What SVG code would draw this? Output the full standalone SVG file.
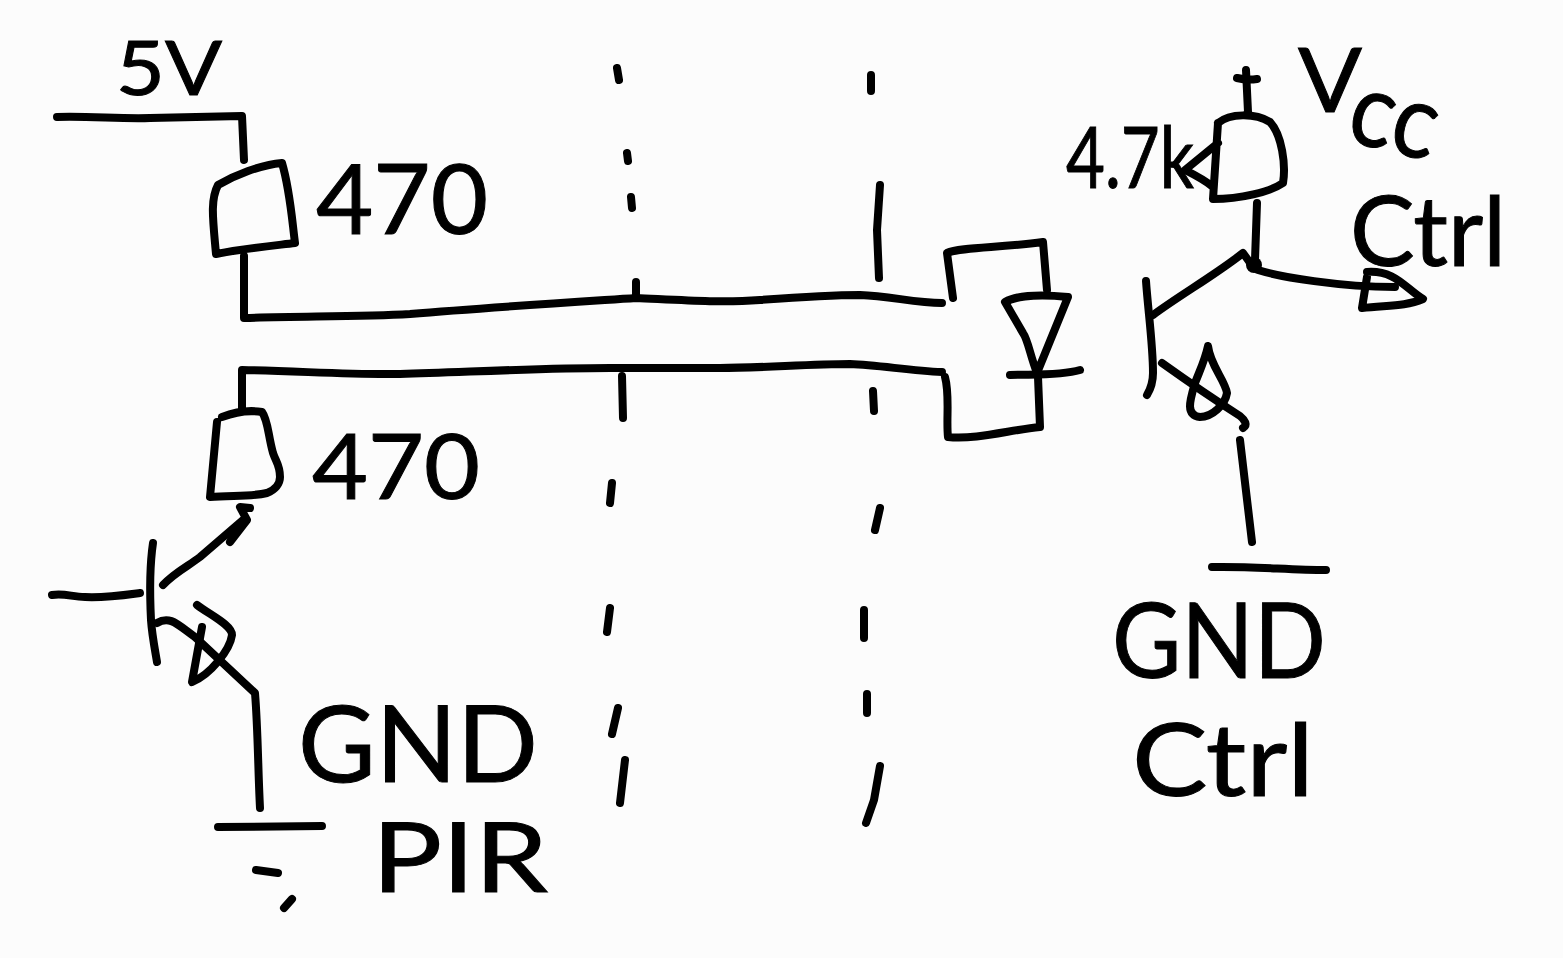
<svg xmlns="http://www.w3.org/2000/svg" width="1563" height="958" viewBox="0 0 1563 958">
<style>
.s{fill:none;stroke:#000;stroke-width:8;stroke-linecap:round;stroke-linejoin:round}
.t{font-family:"Lato","Liberation Sans",sans-serif;fill:#000;stroke:#000;stroke-width:1;font-weight:400}
</style>
<rect width="1563" height="958" fill="#fcfcfc"/>
<g id="connectors" class="s">
<path d="M57 117C90 116 120 119 150 118L242 116L244 160"/>
<path d="M244 256L244 318C300 316 360 317 410 314C480 308 560 303 636 298C680 300 720 303 760 300C800 297 830 295 860 295C890 296 915 303 942 303"/>
<path d="M242 410L242 370C300 371 350 375 400 374C470 372 540 368 610 368L720 368C760 368 810 364 850 364C880 365 910 371 942 372"/>
<path d="M52 595C65 593 72 597 85 597C105 598 125 595 140 593"/>
<path d="M153 543C149 570 150 600 151 620C152 635 155 650 157 662"/>
<path d="M163 585C175 572 190 565 200 557L243 520M230 542L247 520L240 507L250 508"/>
<path d="M157 623C170 615 178 625 195 637L255 693C258 730 258 770 260 808"/>
<path d="M218 827L322 826"/>
<path d="M256 870L278 873"/>
<path d="M284 908L292 899"/>
<path d="M1246 70L1248 112M1237 78C1245 80 1250 80 1257 79"/>
<path d="M1257 203L1255 260"/>
<path d="M1146 281C1148 310 1153 345 1153 373C1153 382 1150 390 1147 395"/>
<path d="M1153 315C1180 295 1215 275 1243 253L1253 267"/>
<path d="M1258 270C1280 277 1340 287 1395 287"/>
<path d="M1162 363C1190 383 1215 400 1240 416C1245 420 1248 425 1243 428"/>
<path d="M1240 440L1252 542"/>
<path d="M1212 567C1250 566 1290 570 1326 570"/>
<path d="M1010 375C1030 374 1060 376 1080 370"/>
<path d="M953 298L947 253C960 247 1000 248 1043 242L1047 290"/>
<path d="M945 377C950 395 946 420 948 437C975 440 1010 430 1040 427L1038 377"/>
</g>
<g id="guides" class="s">
<path d="M617 68L619 80M627 153L628 161M631 197L632 208M636 282L636 296M622 376L623 418M612 483L610 503M610 608L607 632M618 708L612 734M625 760L620 803"/>
<path d="M871 75L871 91M880 185L877 230L879 278M873 391L874 411M880 508L875 530M864 610L864 638M867 694L867 713M880 766L874 800L866 823"/>
</g>
<g id="r1"><path class="s" d="M216 254C213 220 210 200 218 185C235 175 260 165 282 163C290 190 292 220 295 243C270 246 240 249 216 254Z"/></g>
<g id="r2"><path class="s" d="M217 422L210 497C230 495 250 497 267 493C275 490 280 484 280 477C280 465 276 462 273 453C268 435 268 420 262 412C250 410 235 412 222 417"/></g>
<g id="r3"><path class="s" d="M1218 123C1230 113 1255 113 1270 122C1282 135 1286 165 1283 183C1270 192 1240 199 1213 199L1218 123M1218 143L1185 170C1195 175 1205 180 1213 187"/></g>
<g id="diode"><path class="s" d="M1005 302C1012 298 1030 293 1068 297L1037 373C1030 355 1028 340 1023 333Z"/></g>
<g id="q1"><path class="s" d="M197 605C210 615 232 625 232 635C230 650 210 675 192 682L202 627"/></g>
<g id="q2"><path class="s" d="M1208 346C1210 365 1225 380 1227 393C1225 405 1212 417 1200 417C1185 415 1190 400 1195 383C1200 370 1205 360 1208 346Z"/></g>
<g id="out"><path class="s" d="M1367 272C1395 270 1405 288 1423 299C1405 307 1385 305 1362 308L1367 277"/><circle cx="1254" cy="265" r="8" fill="#000"/></g>
<g id="labels" class="t">
<text x="116" y="95" font-size="76" textLength="106" lengthAdjust="spacingAndGlyphs">5V</text>
<text x="316" y="234" font-size="97" textLength="172" lengthAdjust="spacingAndGlyphs">470</text>
<text x="312" y="499" font-size="92" textLength="168" lengthAdjust="spacingAndGlyphs">470</text>
<text x="298" y="782" font-size="106" textLength="240" lengthAdjust="spacingAndGlyphs">GND</text>
<text x="372" y="892" font-size="96" textLength="176" lengthAdjust="spacingAndGlyphs">PIR</text>
<text x="1298" y="112" font-size="90" textLength="64" lengthAdjust="spacingAndGlyphs">V</text>
<text x="1344" y="140" font-size="104" textLength="88" lengthAdjust="spacingAndGlyphs" transform="rotate(14 1344 140)">cc</text>
<text x="1066" y="188" font-size="86" textLength="128" lengthAdjust="spacingAndGlyphs">4.7k</text>
<text x="1350" y="266" font-size="96" textLength="156" lengthAdjust="spacingAndGlyphs">Ctrl</text>
<text x="1112" y="678" font-size="104" textLength="214" lengthAdjust="spacingAndGlyphs">GND</text>
<text x="1132" y="796" font-size="100" textLength="182" lengthAdjust="spacingAndGlyphs">Ctrl</text>
</g>
</svg>
